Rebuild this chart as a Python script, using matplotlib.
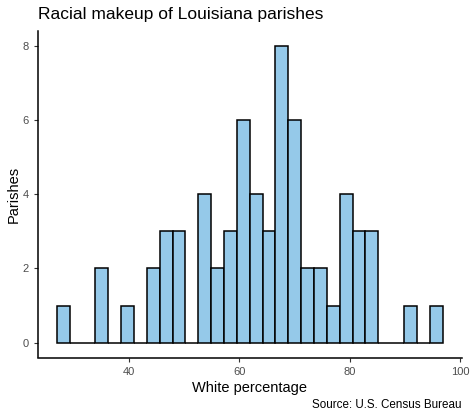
import numpy as np
import matplotlib
matplotlib.use('Agg')
import matplotlib.pyplot as plt

plt.rcParams['font.family'] = ['Liberation Sans', 'DejaVu Sans']

# histogram of white percentage per parish (30 bins)
bin_start = 26.87
bin_width = 2.332
counts = [1, 0, 0, 2, 0, 1, 0, 2, 3, 3,
          0, 4, 2, 3, 6, 4, 3, 8, 6, 2,
          2, 1, 4, 3, 3, 0, 0, 1, 0, 1]
x_ticks = [40, 60, 80, 100]
y_ticks = [0, 2, 4, 6, 8]

fig = plt.figure(figsize=(4.7, 4.18), dpi=100)
ax = fig.add_axes([37.7 / 470, 60.5 / 418, 424 / 470, 326.5 / 418])

lefts = bin_start + bin_width * np.arange(len(counts))
ax.bar(lefts, counts, width=bin_width, align='edge', color='#95C9E9',
       edgecolor='black', linewidth=1.1)

ax.set_xlim(23.4, 100.3)
ax.set_ylim(-0.4, 8.4)
ax.set_xticks(x_ticks)
ax.set_yticks(y_ticks)
ax.tick_params(colors='#333333', labelsize=8, length=3, width=0.8)
for lab in ax.get_xticklabels() + ax.get_yticklabels():
    lab.set_color('#4d4d4d')

for side in ['top', 'right']:
    ax.spines[side].set_visible(False)
for side in ['left', 'bottom']:
    ax.spines[side].set_linewidth(1.1)

ax.set_xlabel('White percentage', fontsize=10.5, labelpad=3)
ax.set_ylabel('Parishes', fontsize=10.5, labelpad=1)

fig.text(38 / 470, 1 - 15 / 418, 'Racial makeup of Louisiana parishes',
         fontsize=12.5, va='center', ha='left')
fig.text(462 / 470, 1 - 405 / 418, 'Source: U.S. Census Bureau',
         fontsize=8.4, va='center', ha='right')

plt.savefig('out.png', dpi=100)
